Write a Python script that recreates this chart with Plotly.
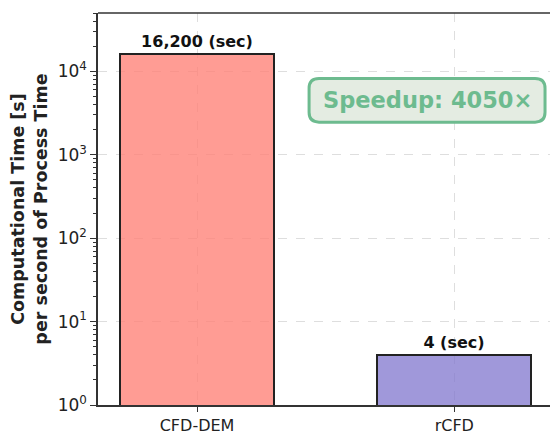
import plotly.graph_objects as go

categories = ["CFD-DEM", "rCFD"]
times = [16200, 4]
labels = ["16,200 (sec)", "4 (sec)"]
colors = ["rgba(255,128,118,0.78)", "rgba(128,118,206,0.75)"]
speedup_text = "Speedup: 4050×"
decades = [0, 1, 2, 3, 4]

fig = go.Figure()
fig.add_trace(go.Bar(
    x=[0, 1], y=times, width=0.6,
    marker=dict(color=colors, line=dict(color="#222222", width=2)),
    text=["<b>" + t + "</b>" for t in labels], textposition="outside", cliponaxis=False,
    textfont=dict(family="DejaVu Sans", size=16, color="#111111"),
    hoverinfo="skip",
))

# rounded box for speedup
x0, x1, y0, y1 = 0.467, 0.989, 0.7215, 0.833
rx, ry = 0.022, 0.025
path = (f"M {x0+rx},{y0} L {x1-rx},{y0} Q {x1},{y0} {x1},{y0+ry} "
        f"L {x1},{y1-ry} Q {x1},{y1} {x1-rx},{y1} L {x0+rx},{y1} "
        f"Q {x0},{y1} {x0},{y1-ry} L {x0},{y0+ry} Q {x0},{y0} {x0+rx},{y0} Z")
fig.add_shape(type="path", xref="paper", yref="paper", path=path,
              fillcolor="#E4ECE2", line=dict(color="#6DBB8F", width=3), layer="above")
fig.add_annotation(
    x=(x0 + x1) / 2, y=(y0 + y1) / 2, xref="paper", yref="paper",
    xanchor="center", yanchor="middle",
    text="<b>" + speedup_text + "</b>", showarrow=False,
    font=dict(family="DejaVu Sans", size=22.5, color="#6DBB8F"),
)

minor_vals = [m * 10 ** d for d in range(0, 5) for m in range(2, 10)]

fig.update_layout(
    width=550, height=435,
    margin=dict(l=98, r=0, t=13, b=27),
    paper_bgcolor="white", plot_bgcolor="white",
    font=dict(family="DejaVu Sans", size=16, color="#222222"),
    showlegend=False,
    bargap=0,
    xaxis=dict(
        range=[-0.385, 1.372],
        tickvals=[0, 1], ticktext=categories,
        showline=True, linecolor="#333333", linewidth=1.5, mirror=False,
        ticks="outside", ticklen=5, tickcolor="#333333",
        showgrid=True, gridcolor="rgba(200,200,200,0.6)", griddash="dash", gridwidth=1,
        zeroline=False, tickfont=dict(size=16),
    ),
    yaxis=dict(
        type="log", range=[0, 4.7],
        tickvals=[10 ** d for d in decades],
        ticktext=[f"10<sup>{d}</sup>" for d in decades],
        showline=True, linecolor="#333333", linewidth=1.5, mirror=False,
        ticks="outside", ticklen=6, tickcolor="#333333",
        minor=dict(ticks="outside", ticklen=3, tickcolor="#333333", showgrid=False,
                   tickvals=minor_vals),
        showgrid=True, gridcolor="rgba(200,200,200,0.6)", griddash="dash", gridwidth=1,
        zeroline=False, tickfont=dict(size=17),
        title=dict(text="<b>Computational Time [s]<br>per second of Process Time</b>",
                   font=dict(size=17.5), standoff=6),
    ),
)
fig.add_shape(type="line", xref="paper", yref="paper", x0=0, x1=1, y0=1, y1=1,
              line=dict(color="#333333", width=1.5))

fig.write_html("out.html")
